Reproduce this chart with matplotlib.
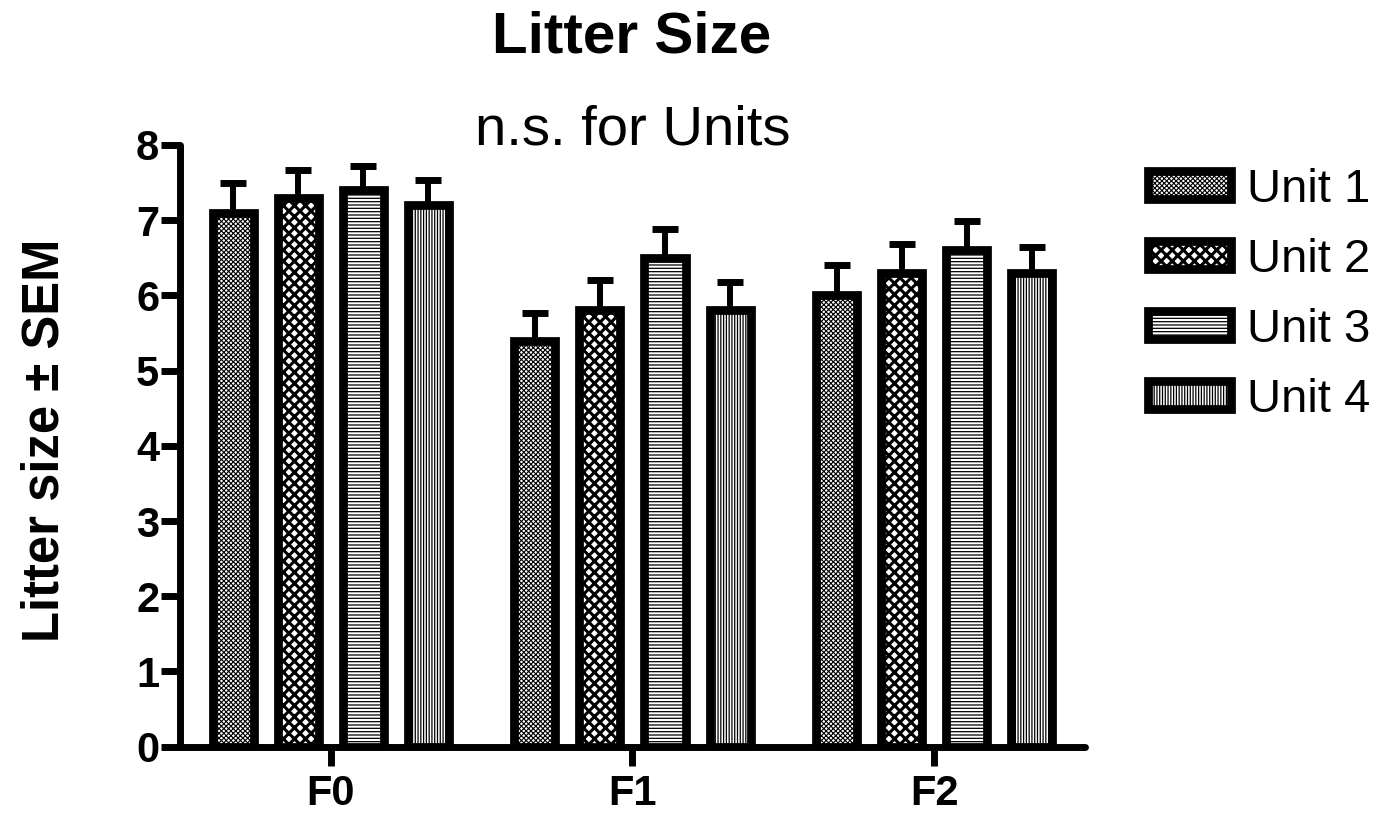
import numpy as np
import matplotlib
matplotlib.use("Agg")
import matplotlib.pyplot as plt

plt.rcParams['font.family'] = ['Liberation Sans', 'DejaVu Sans']
plt.rcParams['hatch.linewidth'] = 0.9

generations = ['F0', 'F1', 'F2']
units = ['Unit 1', 'Unit 2', 'Unit 3', 'Unit 4']

# mean litter size per unit, one list per unit (F0, F1, F2)
unit1_mean = [7.1, 5.4, 6.0]
unit2_mean = [7.3, 5.8, 6.3]
unit3_mean = [7.4, 6.5, 6.6]
unit4_mean = [7.2, 5.8, 6.3]

unit1_sem = [0.40, 0.36, 0.40]
unit2_sem = [0.37, 0.41, 0.38]
unit3_sem = [0.32, 0.38, 0.39]
unit4_sem = [0.33, 0.38, 0.35]

means = [unit1_mean, unit2_mean, unit3_mean, unit4_mean]
sems = [unit1_sem, unit2_sem, unit3_sem, unit4_sem]

faces = ['#ffffff', '#ffffff', '#ffffff', '#ffffff']
hatches = ['xxxxxxx', 'xxx', '-----', '||||||']
hatch_lws = [0.8, 2.2, 0.9, 0.9]

fig = plt.figure(figsize=(13.79, 8.15), dpi=100)
ax = fig.add_axes([0.1305, 0.0838, 0.6563, 0.7383])

x = np.arange(len(generations))
pitch = 0.2156
width = 0.136
edge_lw = 6.3

for i, unit in enumerate(units):
    pos = x + (i - 1.5) * pitch
    ax.errorbar(pos, means[i], yerr=[np.zeros(len(x)), sems[i]], fmt='none',
                ecolor='black', elinewidth=4.3, capsize=9.5, capthick=5, zorder=1)
    bars = ax.bar(pos, means[i], width=width, facecolor=faces[i], edgecolor='black',
                  linewidth=edge_lw, hatch=hatches[i], label=unit, zorder=2)
    for b in bars:
        if hasattr(b, 'set_hatch_linewidth'):
            b.set_hatch_linewidth(hatch_lws[i])

ax.set_xlim(-0.5, 2.5)
ax.set_ylim(0, 8)
ax.set_yticks(range(0, 9))
ax.set_xticks(x)
ax.set_xticklabels(generations)

for side in ['top', 'right']:
    ax.spines[side].set_visible(False)
for side in ['left', 'bottom']:
    ax.spines[side].set_linewidth(5)
    ax.spines[side].set_capstyle('round')
    ax.spines[side].set_zorder(3)

ax.tick_params(axis='both', width=5, length=13.5, labelsize=30)
ax.tick_params(axis='y', pad=1.5)
ax.tick_params(axis='x', pad=6)
for lab in ax.get_xticklabels() + ax.get_yticklabels():
    lab.set_fontweight('bold')

ax.set_ylabel('Litter size ± SEM', fontsize=36.5, fontweight='bold')
ax.yaxis.set_label_coords(-0.122, 0.51)

fig.text(0.458, 0.935, 'Litter Size', ha='center', va='baseline',
         fontsize=42, fontweight='bold')
ax.text(0.5, 1.0, 'n.s. for Units', transform=ax.transAxes, ha='center',
        va='baseline', fontsize=40.5)

leg = ax.legend(loc='upper left', bbox_to_anchor=(0.819, 0.8175),
                bbox_transform=fig.transFigure, frameon=False, fontsize=34,
                handlelength=1.75, handleheight=0.53, labelspacing=0.55,
                handletextpad=0.34, borderaxespad=0)
for patch, lw in zip(leg.get_patches(), hatch_lws):
    if hasattr(patch, 'set_hatch_linewidth'):
        patch.set_hatch_linewidth(lw)

fig.savefig('out.png', dpi=100)
